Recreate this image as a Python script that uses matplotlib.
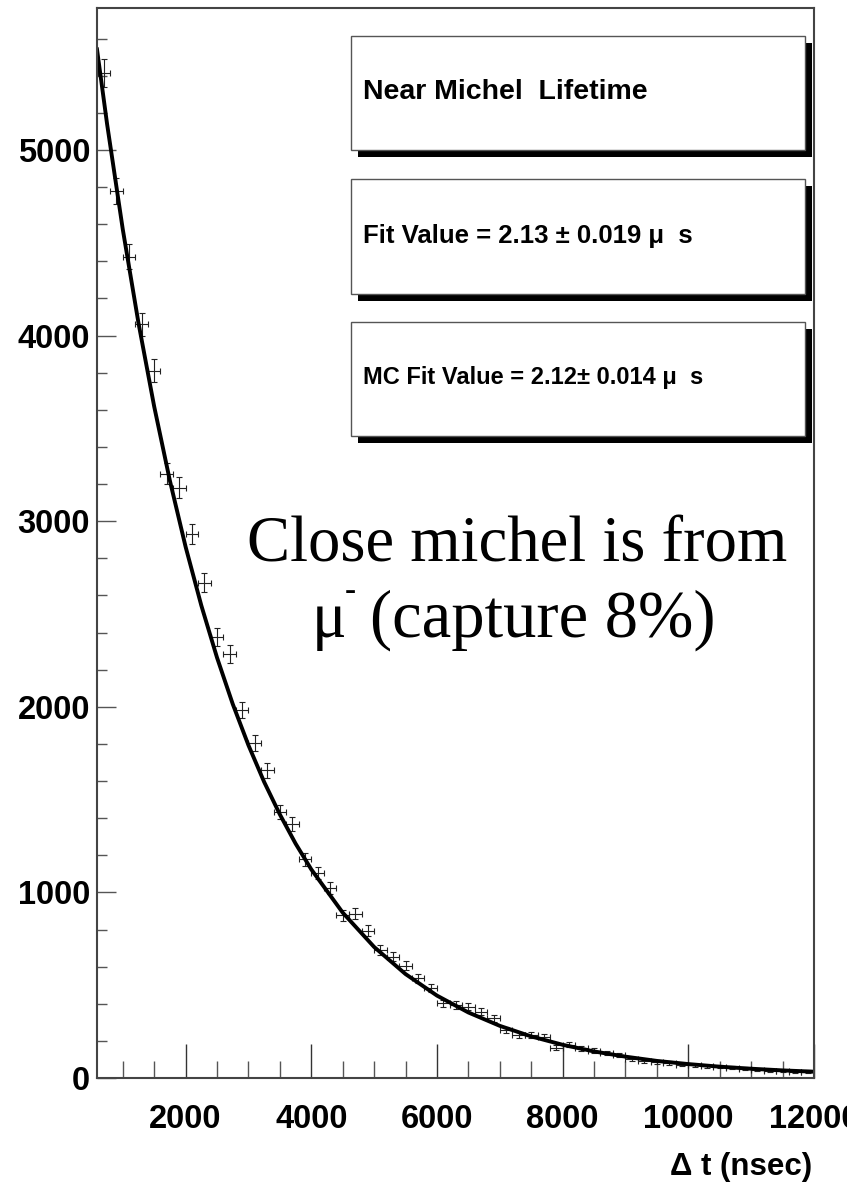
import numpy as np
import matplotlib
matplotlib.use("Agg")
import matplotlib.pyplot as plt
from matplotlib.patches import Rectangle
from matplotlib.ticker import MultipleLocator

# histogram of decay times (bin centres in nsec, 200 nsec bins)
bin_centres = np.arange(700, 12000, 200)
counts = [5415, 4780, 4425, 4060, 3810, 3255, 3180, 2930, 2668, 2378,
          2285, 1983, 1803, 1659, 1435, 1367, 1178, 1103, 1022, 878,
          884, 794, 690, 654, 605, 537, 483, 402, 393, 385,
          357, 322, 259, 232, 232, 223, 163, 178, 160, 147,
          136, 124, 104, 90, 86, 80, 72, 68, 63, 60,
          55, 50, 44, 40, 36, 32, 35]

# fitted curve
fit_t = [590, 750, 1000, 1250, 1500, 1750, 2000, 2250, 2500, 2750, 3000,
         3250, 3500, 3750, 4000, 4500, 5000, 5500, 6000, 6500, 7000, 7500,
         8000, 8500, 9000, 9500, 10000, 10500, 11000, 11500, 12000]
fit_n = [5542, 5141, 4573, 4068, 3618, 3218, 2862, 2546, 2265, 2015, 1793,
         1595, 1420, 1263, 1124, 891, 706, 560, 444, 353, 281, 224,
         179, 143, 115, 92, 75, 61, 50, 41, 34]

y_ticks = [0, 1000, 2000, 3000, 4000, 5000]
x_ticks = [2000, 4000, 6000, 8000, 10000, 12000]

boxes = [
    ("Near Michel  Lifetime", 36, 150, 20.5),
    ("Fit Value = 2.13 \u00b1 0.019 \u03bc  s", 179, 294, 18.5),
    ("MC Fit Value = 2.12\u00b1 0.014 \u03bc  s", 322, 436, 17),
]

W, H = 847, 1188
plt.rcParams["font.family"] = ["Liberation Sans", "DejaVu Sans"]

fig = plt.figure(figsize=(W / 100, H / 100), dpi=100)
ax = fig.add_axes([97 / W, 1 - 1078 / H, (814 - 97) / W, (1078 - 8) / H])

counts = np.array(counts)
ax.errorbar(bin_centres, counts, xerr=100, yerr=np.sqrt(counts), fmt="none",
            ecolor="#222222", elinewidth=0.8, capsize=2, capthick=0.8)
ax.plot(fit_t, fit_n, color="black", lw=2.8)

ax.set_xlim(590, 12000)
ax.set_ylim(0, 5765)
ax.set_xticks(x_ticks)
ax.set_yticks(y_ticks)
ax.xaxis.set_minor_locator(MultipleLocator(500))
ax.yaxis.set_minor_locator(MultipleLocator(200))
ax.tick_params(axis="x", which="major", direction="in", length=24.5, width=1.0,
               color="#333333", pad=19, labelsize=23.5)
ax.tick_params(axis="x", which="minor", direction="in", length=12, width=1.0,
               color="#555555")
ax.tick_params(axis="y", which="major", direction="in", length=13.5, width=1.0,
               color="#555555", pad=5, labelsize=23.5)
ax.tick_params(axis="y", which="minor", direction="in", length=7, width=1.0,
               color="#555555")
for lab in ax.get_xticklabels() + ax.get_yticklabels():
    lab.set_fontweight("bold")
for side in ["left", "bottom", "right", "top"]:
    ax.spines[side].set_linewidth(1.5)
    ax.spines[side].set_color("#444444")


def fx(x):
    return x / W


def fy(y):
    return 1 - y / H


# stat boxes with drop shadow
for text, top, bottom, size in boxes:
    fig.add_artist(Rectangle((fx(358), fy(bottom + 7)), (812 - 358) / W,
                             (bottom - top) / H, transform=fig.transFigure,
                             facecolor="black", edgecolor="none"))
    fig.add_artist(Rectangle((fx(351), fy(bottom)), (805 - 351) / W,
                             (bottom - top) / H, transform=fig.transFigure,
                             facecolor="white", edgecolor="#555555", lw=1.0))
    fig.text(fx(363), fy((top + bottom) / 2 - 1), text, fontsize=size,
             fontweight="bold", ha="left", va="center")

serif = "Liberation Serif"
fig.text(fx(517), fy(562), "Close michel is from", fontsize=46.5,
         family=serif, ha="center", va="baseline")
fig.text(fx(312), fy(637), "\u03bc", fontsize=46.5, family=serif,
         ha="left", va="baseline")
fig.text(fx(345), fy(600), "-", fontsize=24, family=serif,
         ha="left", va="baseline")
fig.text(fx(715), fy(637), "(capture 8%)", fontsize=48, family=serif,
         ha="right", va="baseline")

fig.text(fx(812), fy(1167), "\u0394 t (nsec)", fontsize=22.5, fontweight="bold",
         ha="right", va="center")

fig.savefig("out.png", dpi=100)
